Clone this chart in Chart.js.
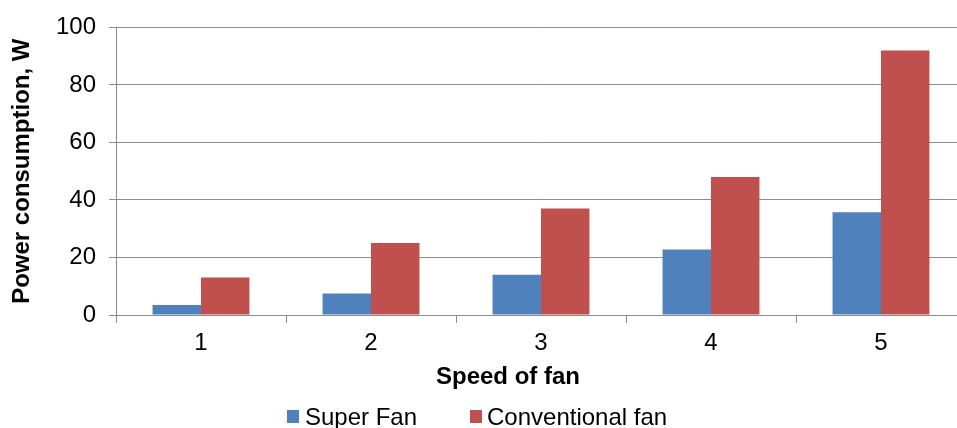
<!DOCTYPE html>
<html>
<head>
<meta charset="utf-8">
<script src="https://cdn.jsdelivr.net/npm/chart.js@4/dist/chart.umd.min.js"></script>
<style>
  html, body { margin: 0; padding: 0; background: #fff; }
  #wrap { position: relative; width: 957px; height: 428px; overflow: hidden; font-family: "Liberation Sans", Arial, sans-serif; color: #000; }
  #fanChart { position: absolute; left: 0; top: 0; }
  .x-title { position: absolute; left: 358px; top: 364px; width: 300px; text-align: center; font-size: 24px; line-height: 24px; font-weight: bold; }
  .legend-item { position: absolute; top: 405px; font-size: 24px; line-height: 24px; white-space: nowrap; }
  .legend-box { position: absolute; top: 410px; width: 12px; height: 13px; }
</style>
</head>
<body>
<div id="wrap">
  <canvas id="fanChart" width="1000" height="428"></canvas>
  <div class="x-title">Speed of fan</div>
  <div id="fanLegend"></div>
</div>
<script>
const speeds = ["1", "2", "3", "4", "5"];
const superFan = [3.5, 7.5, 14, 22.8, 35.7];
const conventionalFan = [13, 25, 37, 48, 92];
const yMin = 0;
const yMax = 100;
const yStep = 20;

const seriesNames = ["Super Fan", "Conventional fan"];
const seriesColors = ["#4f81bd", "#c0504d"];
const gridColor = "#8c8c8c";

let fanChart;

document.addEventListener("DOMContentLoaded", () => {
  renderFanChart();
  renderLegend();
});

function renderFanChart() {
  fanChart?.destroy();
  fanChart = new Chart(document.getElementById("fanChart"), {
    type: "bar",
    data: {
      labels: speeds,
      datasets: [
        { label: seriesNames[0], data: superFan, backgroundColor: seriesColors[0] },
        { label: seriesNames[1], data: conventionalFan, backgroundColor: seriesColors[1] },
      ],
    },
    options: {
      responsive: false,
      animation: false,
      devicePixelRatio: 1,
      layout: { padding: { top: 27, right: 34, bottom: 0, left: 0 } },
      datasets: { bar: { categoryPercentage: 0.57, barPercentage: 1.0 } },
      plugins: { legend: { display: false }, tooltip: { enabled: false } },
      scales: {
        x: {
          afterFit: (scale) => { scale.height = 113; },
          grid: { drawOnChartArea: false, tickLength: 8, color: gridColor },
          border: { color: gridColor, width: 1 },
          ticks: { color: "#000", padding: 6, font: { family: "Liberation Sans", size: 24 } },
        },
        y: {
          min: yMin,
          max: yMax,
          afterFit: (scale) => { scale.width = 116; },
          grid: { color: gridColor, tickLength: 7 },
          border: { color: gridColor, width: 1 },
          ticks: { stepSize: yStep, color: "#000", padding: 13, font: { family: "Liberation Sans", size: 24 } },
          title: {
            display: true,
            text: "Power consumption, W",
            color: "#000",
            padding: { top: 8, bottom: 0 },
            font: { family: "Liberation Sans", size: 24, weight: "bold" },
          },
        },
      },
    },
  });
}

function renderLegend() {
  const boxLeft = [287, 470];
  const textLeft = [305, 487];
  document.getElementById("fanLegend").innerHTML = seriesNames.map((name, i) => `
    <div class="legend-box" style="left:${boxLeft[i]}px;background:${seriesColors[i]}"></div>
    <div class="legend-item" style="left:${textLeft[i]}px">${name}</div>
  `).join("");
}
</script>
</body>
</html>
